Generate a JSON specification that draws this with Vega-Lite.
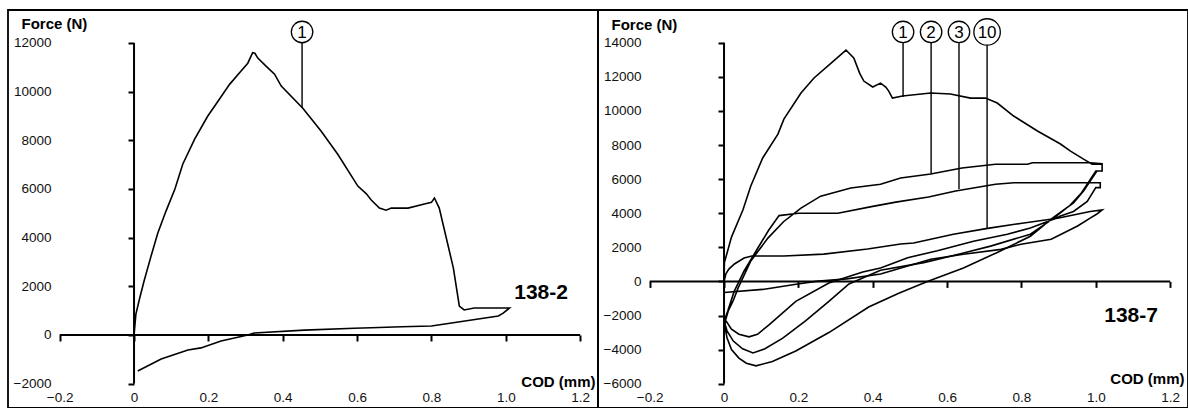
{
  "$schema": "https://vega.github.io/schema/vega-lite/v6.json",
  "padding": {"left": 7, "top": 9, "right": 0, "bottom": 0},
  "spacing": 0,
  "bounds": "flush",
  "config": {
    "view": {"stroke": "#000", "strokeWidth": 1.8},
    "font": "Liberation Sans",
    "axis": {"grid": false, "labelColor": "#111", "titleColor": "#000", "labelFont": "Liberation Sans", "titleFont": "Liberation Sans"}
  },
  "datasets": {
    "one": [{"k": 1}],
    "left": [
      {"s": "a", "cod": 0, "force": 0}, {"s": "a", "cod": 0.005, "force": 860}, {"s": "a", "cod": 0.015, "force": 1500}, {"s": "a", "cod": 0.027, "force": 2218}, {"s": "a", "cod": 0.045, "force": 3200}, {"s": "a", "cod": 0.064, "force": 4190}, {"s": "a", "cod": 0.086, "force": 5092}, {"s": "a", "cod": 0.11, "force": 6000}, {"s": "a", "cod": 0.131, "force": 7020}, {"s": "a", "cod": 0.163, "force": 8050}, {"s": "a", "cod": 0.198, "force": 8990}, {"s": "a", "cod": 0.23, "force": 9700}, {"s": "a", "cod": 0.257, "force": 10300}, {"s": "a", "cod": 0.285, "force": 10800}, {"s": "a", "cod": 0.306, "force": 11170}, {"s": "a", "cod": 0.319, "force": 11600}, {"s": "a", "cod": 0.325, "force": 11580}, {"s": "a", "cod": 0.333, "force": 11380}, {"s": "a", "cod": 0.355, "force": 11050}, {"s": "a", "cod": 0.378, "force": 10720}, {"s": "a", "cod": 0.396, "force": 10230}, {"s": "a", "cod": 0.454, "force": 9320}, {"s": "a", "cod": 0.503, "force": 8380}, {"s": "a", "cod": 0.548, "force": 7430}, {"s": "a", "cod": 0.602, "force": 6120}, {"s": "a", "cod": 0.625, "force": 5800}, {"s": "a", "cod": 0.638, "force": 5550}, {"s": "a", "cod": 0.66, "force": 5215}, {"s": "a", "cod": 0.678, "force": 5130}, {"s": "a", "cod": 0.692, "force": 5215}, {"s": "a", "cod": 0.737, "force": 5215}, {"s": "a", "cod": 0.781, "force": 5380}, {"s": "a", "cod": 0.8, "force": 5450}, {"s": "a", "cod": 0.808, "force": 5630}, {"s": "a", "cod": 0.821, "force": 5215}, {"s": "a", "cod": 0.859, "force": 2750}, {"s": "a", "cod": 0.875, "force": 1190}, {"s": "a", "cod": 0.888, "force": 1030}, {"s": "a", "cod": 0.915, "force": 1110}, {"s": "a", "cod": 1.01, "force": 1110}, {"s": "a", "cod": 0.993, "force": 900}, {"s": "a", "cod": 0.98, "force": 780}, {"s": "a", "cod": 0.8, "force": 370}, {"s": "a", "cod": 0.72, "force": 340}, {"s": "a", "cod": 0.638, "force": 300}, {"s": "a", "cod": 0.592, "force": 280}, {"s": "a", "cod": 0.458, "force": 200}, {"s": "a", "cod": 0.323, "force": 80}, {"s": "a", "cod": 0.306, "force": 0}, {"s": "a", "cod": 0.27, "force": -120}, {"s": "a", "cod": 0.234, "force": -250}, {"s": "a", "cod": 0.18, "force": -530}, {"s": "a", "cod": 0.145, "force": -620}, {"s": "a", "cod": 0.073, "force": -990}, {"s": "a", "cod": 0.01, "force": -1480}
    ],
    "right": [
      {"s": "a", "cod": 0, "force": 0}, {"s": "a", "cod": 0.001, "force": 1100}, {"s": "a", "cod": 0.02, "force": 2600}, {"s": "a", "cod": 0.051, "force": 4200}, {"s": "a", "cod": 0.072, "force": 5600}, {"s": "a", "cod": 0.104, "force": 7240}, {"s": "a", "cod": 0.145, "force": 8640}, {"s": "a", "cod": 0.161, "force": 9520}, {"s": "a", "cod": 0.207, "force": 11050}, {"s": "a", "cod": 0.242, "force": 11930}, {"s": "a", "cod": 0.295, "force": 12930}, {"s": "a", "cod": 0.328, "force": 13570}, {"s": "a", "cod": 0.349, "force": 13100}, {"s": "a", "cod": 0.365, "force": 12200}, {"s": "a", "cod": 0.376, "force": 11750}, {"s": "a", "cod": 0.4, "force": 11400}, {"s": "a", "cod": 0.421, "force": 11630}, {"s": "a", "cod": 0.435, "force": 11400}, {"s": "a", "cod": 0.443, "force": 11160}, {"s": "a", "cod": 0.453, "force": 10750}, {"s": "a", "cod": 0.48, "force": 10870}, {"s": "a", "cod": 0.556, "force": 11050}, {"s": "a", "cod": 0.609, "force": 10990}, {"s": "a", "cod": 0.663, "force": 10750}, {"s": "a", "cod": 0.703, "force": 10750}, {"s": "a", "cod": 0.735, "force": 10460}, {"s": "a", "cod": 0.779, "force": 9700}, {"s": "a", "cod": 0.843, "force": 8820}, {"s": "a", "cod": 0.905, "force": 8060}, {"s": "a", "cod": 0.932, "force": 7640}, {"s": "a", "cod": 0.967, "force": 7170}, {"s": "a", "cod": 0.99, "force": 6880}, {"s": "a", "cod": 1.017, "force": 6880}, {"s": "a", "cod": 1.017, "force": 6475}, {"s": "a", "cod": 1.003, "force": 6475},
      {"s": "a", "cod": 0.985, "force": 5880}, {"s": "a", "cod": 0.967, "force": 5300}, {"s": "a", "cod": 0.94, "force": 4600}, {"s": "a", "cod": 0.886, "force": 3750}, {"s": "a", "cod": 0.824, "force": 2650}, {"s": "a", "cod": 0.735, "force": 1700}, {"s": "a", "cod": 0.644, "force": 790}, {"s": "a", "cod": 0.547, "force": 0}, {"s": "a", "cod": 0.47, "force": -700}, {"s": "a", "cod": 0.389, "force": -1500}, {"s": "a", "cod": 0.282, "force": -3000}, {"s": "a", "cod": 0.193, "force": -4080}, {"s": "a", "cod": 0.13, "force": -4700}, {"s": "a", "cod": 0.086, "force": -4950}, {"s": "a", "cod": 0.06, "force": -4800}, {"s": "a", "cod": 0.04, "force": -4500}, {"s": "a", "cod": 0.02, "force": -4000}, {"s": "a", "cod": 0.008, "force": -3300}, {"s": "a", "cod": 0.002, "force": -2600},
      {"s": "a", "cod": 0.005, "force": -2200}, {"s": "a", "cod": 0.012, "force": -1700}, {"s": "a", "cod": 0.024, "force": -1160}, {"s": "a", "cod": 0.038, "force": -380}, {"s": "a", "cod": 0.072, "force": 1200}, {"s": "a", "cod": 0.118, "force": 2540}, {"s": "a", "cod": 0.16, "force": 3500}, {"s": "a", "cod": 0.207, "force": 4300}, {"s": "a", "cod": 0.26, "force": 5000}, {"s": "a", "cod": 0.341, "force": 5480}, {"s": "a", "cod": 0.421, "force": 5700}, {"s": "a", "cod": 0.475, "force": 6060}, {"s": "a", "cod": 0.556, "force": 6300}, {"s": "a", "cod": 0.64, "force": 6650}, {"s": "a", "cod": 0.73, "force": 6870}, {"s": "a", "cod": 0.816, "force": 6870}, {"s": "a", "cod": 0.83, "force": 6960}, {"s": "a", "cod": 0.985, "force": 6960}, {"s": "a", "cod": 1.017, "force": 6900}, {"s": "a", "cod": 1.017, "force": 6475}, {"s": "a", "cod": 1.0, "force": 6475},
      {"s": "a", "cod": 0.98, "force": 5800}, {"s": "a", "cod": 0.96, "force": 5150}, {"s": "a", "cod": 0.93, "force": 4450}, {"s": "a", "cod": 0.886, "force": 3700}, {"s": "a", "cod": 0.824, "force": 2770}, {"s": "a", "cod": 0.717, "force": 2070}, {"s": "a", "cod": 0.644, "force": 1660}, {"s": "a", "cod": 0.537, "force": 1100}, {"s": "a", "cod": 0.421, "force": 650}, {"s": "a", "cod": 0.336, "force": -150}, {"s": "a", "cod": 0.282, "force": -1170}, {"s": "a", "cod": 0.22, "force": -2300}, {"s": "a", "cod": 0.158, "force": -3330}, {"s": "a", "cod": 0.11, "force": -3950}, {"s": "a", "cod": 0.078, "force": -4200}, {"s": "a", "cod": 0.05, "force": -3950}, {"s": "a", "cod": 0.025, "force": -3500}, {"s": "a", "cod": 0.008, "force": -2900}, {"s": "a", "cod": 0.001, "force": -2400},
      {"s": "a", "cod": 0.004, "force": -2100}, {"s": "a", "cod": 0.01, "force": -1740}, {"s": "a", "cod": 0.027, "force": -600}, {"s": "a", "cod": 0.054, "force": 610}, {"s": "a", "cod": 0.091, "force": 1960}, {"s": "a", "cod": 0.12, "force": 3000}, {"s": "a", "cod": 0.148, "force": 3860}, {"s": "a", "cod": 0.2, "force": 4000}, {"s": "a", "cod": 0.306, "force": 4000}, {"s": "a", "cod": 0.4, "force": 4400}, {"s": "a", "cod": 0.462, "force": 4650}, {"s": "a", "cod": 0.55, "force": 4950}, {"s": "a", "cod": 0.623, "force": 5300}, {"s": "a", "cod": 0.73, "force": 5700}, {"s": "a", "cod": 0.78, "force": 5790}, {"s": "a", "cod": 0.9, "force": 5790}, {"s": "a", "cod": 1.012, "force": 5790}, {"s": "a", "cod": 1.012, "force": 5500}, {"s": "a", "cod": 1.0, "force": 5500},
      {"s": "a", "cod": 0.977, "force": 4690}, {"s": "a", "cod": 0.94, "force": 4100}, {"s": "a", "cod": 0.905, "force": 3830}, {"s": "a", "cod": 0.886, "force": 3650}, {"s": "a", "cod": 0.824, "force": 3130}, {"s": "a", "cod": 0.762, "force": 2770}, {"s": "a", "cod": 0.671, "force": 2360}, {"s": "a", "cod": 0.574, "force": 1800}, {"s": "a", "cod": 0.494, "force": 1390}, {"s": "a", "cod": 0.421, "force": 790}, {"s": "a", "cod": 0.373, "force": 550}, {"s": "a", "cod": 0.282, "force": -90}, {"s": "a", "cod": 0.193, "force": -1170}, {"s": "a", "cod": 0.121, "force": -2550}, {"s": "a", "cod": 0.09, "force": -3100}, {"s": "a", "cod": 0.067, "force": -3250}, {"s": "a", "cod": 0.04, "force": -3100}, {"s": "a", "cod": 0.02, "force": -2800}, {"s": "a", "cod": 0.005, "force": -2300}, {"s": "a", "cod": 0.0, "force": -2100},
      {"s": "b", "cod": 0, "force": 0}, {"s": "b", "cod": 0.005, "force": 450}, {"s": "b", "cod": 0.013, "force": 720}, {"s": "b", "cod": 0.028, "force": 1020}, {"s": "b", "cod": 0.054, "force": 1370}, {"s": "b", "cod": 0.075, "force": 1490}, {"s": "b", "cod": 0.161, "force": 1490}, {"s": "b", "cod": 0.268, "force": 1600}, {"s": "b", "cod": 0.386, "force": 1900}, {"s": "b", "cod": 0.475, "force": 2190}, {"s": "b", "cod": 0.51, "force": 2250}, {"s": "b", "cod": 0.617, "force": 2770}, {"s": "b", "cod": 0.709, "force": 3110}, {"s": "b", "cod": 0.797, "force": 3400}, {"s": "b", "cod": 0.897, "force": 3700}, {"s": "b", "cod": 0.985, "force": 4100}, {"s": "b", "cod": 1.017, "force": 4190}, {"s": "b", "cod": 1.003, "force": 3950}, {"s": "b", "cod": 0.987, "force": 3740}, {"s": "b", "cod": 0.951, "force": 3250}, {"s": "b", "cod": 0.88, "force": 2470}, {"s": "b", "cod": 0.799, "force": 2180}, {"s": "b", "cod": 0.745, "force": 1880}, {"s": "b", "cod": 0.644, "force": 1590}, {"s": "b", "cod": 0.556, "force": 1300}, {"s": "b", "cod": 0.421, "force": 430}, {"s": "b", "cod": 0.33, "force": 150}, {"s": "b", "cod": 0.247, "force": 0}, {"s": "b", "cod": 0.198, "force": -150}, {"s": "b", "cod": 0.104, "force": -470}, {"s": "b", "cod": 0.0, "force": -650}
    ],
    "leftNotes": [{"n": "1", "cod": 0.452, "top": 12452, "end": 9329}],
    "rightNotes": [
      {"n": "1", "cod": 0.4816, "top": 14628, "end": 10815},
      {"n": "2", "cod": 0.557, "top": 14628, "end": 6299},
      {"n": "3", "cod": 0.632, "top": 14628, "end": 5419},
      {"n": "10", "cod": 0.7076, "top": 14628, "end": 3132}
    ],
    "leftName": [{"name": "138-2", "cod": 1.095, "force": 1726}],
    "rightName": [{"name": "138-7", "cod": 1.095, "force": -2030}]
  },
  "hconcat": [
    {
      "width": 590,
      "height": 398,
      "resolve": {"axis": {"x": "independent", "y": "independent"}},
      "layer": [
        {
          "data": {"name": "left"},
          "mark": {"type": "line", "color": "#000", "strokeWidth": 1.6},
          "encoding": {
            "x": {"field": "cod", "type": "quantitative", "scale": {"domain": [-0.339, 1.248], "nice": false, "zero": false},
              "axis": {"orient": "bottom", "offset": -10.5, "values": [-0.2, 0, 0.2, 0.4, 0.6, 0.8, 1, 1.2], "labelExpr": "datum.value === 0 ? '0' : format(datum.value, '.1f')", "domain": false, "ticks": false, "tickSize": 0, "labelPadding": 0, "labelBaseline": "middle", "labelFontSize": 13.5, "labelFlush": false, "labelOverlap": false,
                "title": "COD (mm)", "titleX": 587, "titleY": -16, "titleAlign": "right", "titleBaseline": "middle", "titleAngle": 0, "titleFontSize": 15, "titleFontWeight": "bold"}},
            "y": {"field": "force", "type": "quantitative", "scale": {"domain": [-3000, 13356], "nice": false, "zero": false},
              "axis": {"orient": "left", "offset": -45, "values": [-2000, 0, 2000, 4000, 6000, 8000, 10000, 12000], "format": "d", "domain": false, "ticks": false, "tickSize": 0, "labelPadding": 2, "labelFontSize": 13.5, "labelFlush": false, "labelOverlap": false,
                "title": "Force (N)", "titleX": -32, "titleY": 13, "titleAlign": "left", "titleBaseline": "middle", "titleAngle": 0, "titleFontSize": 15, "titleFontWeight": "bold"}},
            "detail": {"field": "s"},
            "order": {"value": null}
          }
        },
        {
          "data": {"name": "one"},
          "mark": {"type": "rule", "color": "#000", "strokeWidth": 2},
          "encoding": {
            "x": {"datum": 0, "type": "quantitative",
              "axis": {"orient": "bottom", "offset": -73, "values": [-0.2, 0, 0.2, 0.4, 0.6, 0.8, 1, 1.2], "labels": false, "domain": false, "ticks": true, "tickSize": 6, "tickWidth": 2, "tickColor": "#000", "title": null}},
            "y": {"datum": -2000, "type": "quantitative",
              "axis": {"orient": "left", "offset": -126, "values": [-2000, 0, 2000, 4000, 6000, 8000, 10000, 12000], "labels": false, "domain": false, "ticks": true, "tickSize": 6, "tickWidth": 2, "tickColor": "#000", "title": null}},
            "y2": {"datum": 12000}
          }
        },
        {
          "data": {"name": "one"},
          "mark": {"type": "rule", "color": "#000", "strokeWidth": 2},
          "encoding": {
            "x": {"datum": -0.2, "type": "quantitative", "axis": null},
            "x2": {"datum": 1.2},
            "y": {"datum": 0, "type": "quantitative", "axis": null}
          }
        },
        {
          "data": {"name": "leftNotes"},
          "mark": {"type": "rule", "color": "#000", "strokeWidth": 1.4},
          "encoding": {
            "x": {"field": "cod", "type": "quantitative", "axis": null},
            "y": {"field": "top", "type": "quantitative", "axis": null},
            "y2": {"field": "end"}
          }
        },
        {
          "data": {"name": "leftNotes"},
          "mark": {"type": "point", "shape": "circle", "filled": false, "fill": "#fff", "fillOpacity": 1, "stroke": "#000", "strokeWidth": 1.3, "opacity": 1},
          "encoding": {
            "x": {"field": "cod", "type": "quantitative", "axis": null},
            "y": {"field": "top", "type": "quantitative", "axis": null},
            "size": {"value": 460}
          }
        },
        {
          "data": {"name": "leftNotes"},
          "mark": {"type": "text", "fontSize": 17, "color": "#000", "align": "center", "baseline": "middle", "dy": 1},
          "encoding": {
            "x": {"field": "cod", "type": "quantitative", "axis": null},
            "y": {"field": "top", "type": "quantitative", "axis": null},
            "text": {"field": "n"}
          }
        },
        {
          "data": {"name": "leftName"},
          "mark": {"type": "text", "fontSize": 21, "fontWeight": "bold", "color": "#000", "align": "center", "baseline": "middle"},
          "encoding": {
            "x": {"field": "cod", "type": "quantitative", "axis": null},
            "y": {"field": "force", "type": "quantitative", "axis": null},
            "text": {"field": "name"}
          }
        }
      ]
    },
    {
      "width": 590,
      "height": 398,
      "resolve": {"axis": {"x": "independent", "y": "independent"}},
      "layer": [
        {
          "data": {"name": "right"},
          "mark": {"type": "line", "color": "#000", "strokeWidth": 1.6},
          "encoding": {
            "x": {"field": "cod", "type": "quantitative", "scale": {"domain": [-0.339, 1.248], "nice": false, "zero": false},
              "axis": {"orient": "bottom", "offset": -10.5, "values": [-0.2, 0, 0.2, 0.4, 0.6, 0.8, 1, 1.2], "labelExpr": "datum.value === 0 ? '0' : format(datum.value, '.1f')", "domain": false, "ticks": false, "tickSize": 0, "labelPadding": 0, "labelBaseline": "middle", "labelFontSize": 13.5, "labelFlush": false, "labelOverlap": false,
                "title": "COD (mm)", "titleX": 586, "titleY": -19, "titleAlign": "right", "titleBaseline": "middle", "titleAngle": 0, "titleFontSize": 15, "titleFontWeight": "bold"}},
            "y": {"field": "force", "type": "quantitative", "scale": {"domain": [-7425, 15918], "nice": false, "zero": false},
              "axis": {"orient": "left", "offset": -45, "values": [-6000, -4000, -2000, 0, 2000, 4000, 6000, 8000, 10000, 12000, 14000], "format": "d", "domain": false, "ticks": false, "tickSize": 0, "labelPadding": 2, "labelFontSize": 13.5, "labelFlush": false, "labelOverlap": false,
                "title": "Force (N)", "titleX": -32, "titleY": 14, "titleAlign": "left", "titleBaseline": "middle", "titleAngle": 0, "titleFontSize": 15, "titleFontWeight": "bold"}},
            "detail": {"field": "s"},
            "order": {"value": null}
          }
        },
        {
          "data": {"name": "one"},
          "mark": {"type": "rule", "color": "#000", "strokeWidth": 2},
          "encoding": {
            "x": {"datum": 0, "type": "quantitative",
              "axis": {"orient": "bottom", "offset": -126.6, "values": [-0.2, 0, 0.2, 0.4, 0.6, 0.8, 1, 1.2], "labels": false, "domain": false, "ticks": true, "tickSize": 6, "tickWidth": 2, "tickColor": "#000", "title": null}},
            "y": {"datum": -6000, "type": "quantitative",
              "axis": {"orient": "left", "offset": -126, "values": [-6000, -4000, -2000, 0, 2000, 4000, 6000, 8000, 10000, 12000, 14000], "labels": false, "domain": false, "ticks": true, "tickSize": 6, "tickWidth": 2, "tickColor": "#000", "title": null}},
            "y2": {"datum": 14000}
          }
        },
        {
          "data": {"name": "one"},
          "mark": {"type": "rule", "color": "#000", "strokeWidth": 2},
          "encoding": {
            "x": {"datum": -0.2, "type": "quantitative", "axis": null},
            "x2": {"datum": 1.2},
            "y": {"datum": 0, "type": "quantitative", "axis": null}
          }
        },
        {
          "data": {"name": "rightNotes"},
          "mark": {"type": "rule", "color": "#000", "strokeWidth": 1.4},
          "encoding": {
            "x": {"field": "cod", "type": "quantitative", "axis": null},
            "y": {"field": "top", "type": "quantitative", "axis": null},
            "y2": {"field": "end"}
          }
        },
        {
          "data": {"name": "rightNotes"},
          "mark": {"type": "point", "shape": "circle", "filled": false, "fill": "#fff", "fillOpacity": 1, "stroke": "#000", "strokeWidth": 1.3, "opacity": 1},
          "encoding": {
            "x": {"field": "cod", "type": "quantitative", "axis": null},
            "y": {"field": "top", "type": "quantitative", "axis": null},
            "size": {"condition": {"test": "datum.n === '10'", "value": 700}, "value": 460}
          }
        },
        {
          "data": {"name": "rightNotes"},
          "mark": {"type": "text", "fontSize": 17, "color": "#000", "align": "center", "baseline": "middle", "dy": 1},
          "encoding": {
            "x": {"field": "cod", "type": "quantitative", "axis": null},
            "y": {"field": "top", "type": "quantitative", "axis": null},
            "text": {"field": "n"}
          }
        },
        {
          "data": {"name": "rightName"},
          "mark": {"type": "text", "fontSize": 21, "fontWeight": "bold", "color": "#000", "align": "center", "baseline": "middle"},
          "encoding": {
            "x": {"field": "cod", "type": "quantitative", "axis": null},
            "y": {"field": "force", "type": "quantitative", "axis": null},
            "text": {"field": "name"}
          }
        }
      ]
    }
  ]
}
